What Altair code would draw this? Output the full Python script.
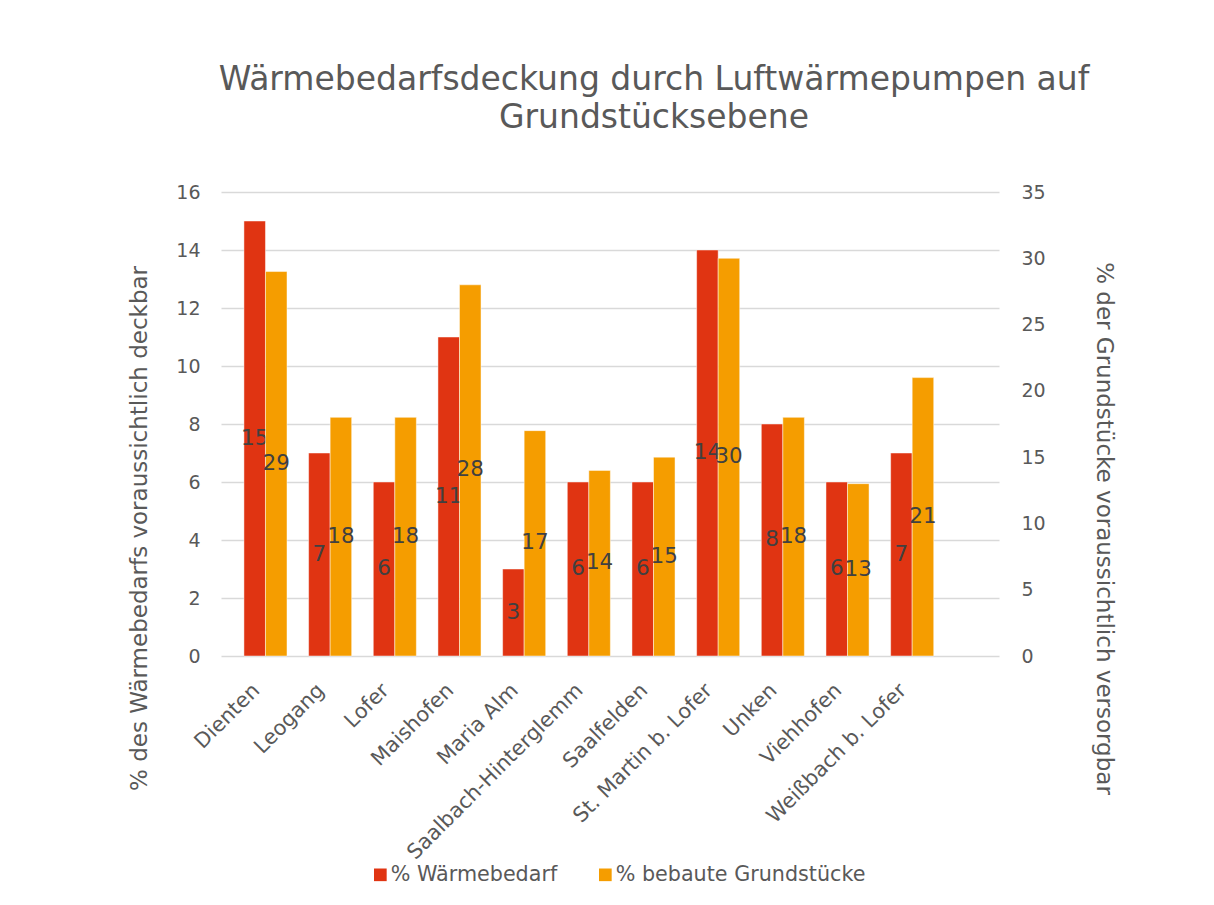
import altair as alt
import pandas as pd

categories = ["Dienten", "Leogang", "Lofer", "Maishofen", "Maria Alm",
              "Saalbach-Hinterglemm", "Saalfelden", "St. Martin b. Lofer",
              "Unken", "Viehhofen", "Weißbach b. Lofer"]
waerme = [15, 7, 6, 11, 3, 6, 6, 14, 8, 6, 7]
grund = [29, 18, 18, 28, 17, 14, 15, 30, 18, 13, 21]
series = ["% Wärmebedarf", "% bebaute Grundstücke"]
colors = ["#E03412", "#F59D00"]

rows = []
for c, w, g in zip(categories, waerme, grund):
    rows.append({"Gemeinde": c, "Serie": series[0], "Wert": w})
    rows.append({"Gemeinde": c, "Serie": series[1], "Wert": g})
df = pd.DataFrame(rows)

FONT = "DejaVu Sans"
GRAY = "#595959"
W, H = 778, 464

x_enc = alt.X("Gemeinde:N", sort=categories, title=None,
              scale=alt.Scale(domain=categories, paddingInner=0.334,
                              paddingOuter=0.682, align=0.26),
              axis=alt.Axis(labelAngle=-45, labelAlign="right", labelBaseline="middle",
                            labelPadding=31, labelOffset=-9, labelFontSize=20.8,
                            labelColor=GRAY, labelLimit=400, domain=False, ticks=False,
                            labelFont=FONT))
xoff = alt.XOffset("Serie:N", sort=series,
                   scale=alt.Scale(domain=series, paddingInner=0, paddingOuter=0))
col = alt.Color("Serie:N", sort=series,
                scale=alt.Scale(domain=series, range=colors),
                legend=alt.Legend(title=None, orient="none", legendX=149, legendY=672,
                                  direction="horizontal", symbolType="square",
                                  symbolSize=160, symbolStrokeWidth=0, padding=0,
                                  labelFontSize=20.7, labelColor=GRAY, labelFont=FONT,
                                  labelLimit=400, columnPadding=37, labelOffset=0))

left_title = "% des Wärmebedarfs voraussichtlich deckbar"
right_title = "% der Grundstücke voraussichtlich versorgbar"

base = alt.Chart(df)

bar_l = base.transform_filter(alt.datum.Serie == series[0]).mark_bar(
    stroke="white", strokeWidth=0.8, strokeOpacity=0.6).encode(
    x=x_enc, xOffset=xoff, color=col,
    y=alt.Y("Wert:Q", title=left_title,
            scale=alt.Scale(domain=[0, 16], nice=False),
            axis=alt.Axis(orient="left", values=list(range(0, 17, 2)), grid=True,
                          gridColor="#D9D9D9", gridWidth=1.5, domain=False, ticks=False,
                          labelFontSize=19, labelColor=GRAY, labelPadding=21,
                          titleFontSize=23, titleColor=GRAY, titleFontWeight="normal",
                          titleX=-70, titleY=336, titleFont=FONT, labelFont=FONT)))
txt_l = base.transform_filter(alt.datum.Serie == series[0]).transform_calculate(
    mid="datum.Wert / 2").mark_text(fontSize=21.5, color="#404040", font=FONT,
                                    baseline="middle").encode(
    x=alt.X("Gemeinde:N", sort=categories), xOffset=xoff,
    y=alt.Y("mid:Q", scale=alt.Scale(domain=[0, 16], nice=False), axis=None),
    text=alt.Text("Wert:Q"))

bar_r = base.transform_filter(alt.datum.Serie == series[1]).mark_bar(
    stroke="white", strokeWidth=0.8, strokeOpacity=0.6).encode(
    x=x_enc, xOffset=xoff, color=col,
    y=alt.Y("Wert:Q", title=right_title,
            scale=alt.Scale(domain=[0, 35], nice=False),
            axis=alt.Axis(orient="right", values=list(range(0, 36, 5)), grid=False,
                          domain=False, ticks=False,
                          labelFontSize=19, labelColor=GRAY, labelPadding=22,
                          titleFontSize=23, titleColor=GRAY, titleFontWeight="normal",
                          titleX=92, titleY=336, titleFont=FONT, labelFont=FONT)))
txt_r = base.transform_filter(alt.datum.Serie == series[1]).transform_calculate(
    mid="datum.Wert / 2").mark_text(fontSize=21.5, color="#404040", font=FONT,
                                    baseline="middle").encode(
    x=alt.X("Gemeinde:N", sort=categories), xOffset=xoff,
    y=alt.Y("mid:Q", scale=alt.Scale(domain=[0, 35], nice=False), axis=None),
    text=alt.Text("Wert:Q"))

chart = alt.layer(bar_l, txt_l, bar_r, txt_r).resolve_scale(
    y="independent").properties(
    width=W, height=H,
    autosize=alt.AutoSizeParams(type="none"),
    padding={"left": 213, "top": 184, "right": 180, "bottom": 240},
    title=alt.TitleParams(text=["Wärmebedarfsdeckung durch Luftwärmepumpen auf",
                                "Grundstücksebene"],
                          fontSize=33, font=FONT, color=GRAY, fontWeight="normal",
                          lineHeight=38, offset=48, dx=44, anchor="middle")
).configure(font=FONT).configure_view(stroke=None)

chart.save("out.html", embed_options={"renderer": "svg", "actions": False})
